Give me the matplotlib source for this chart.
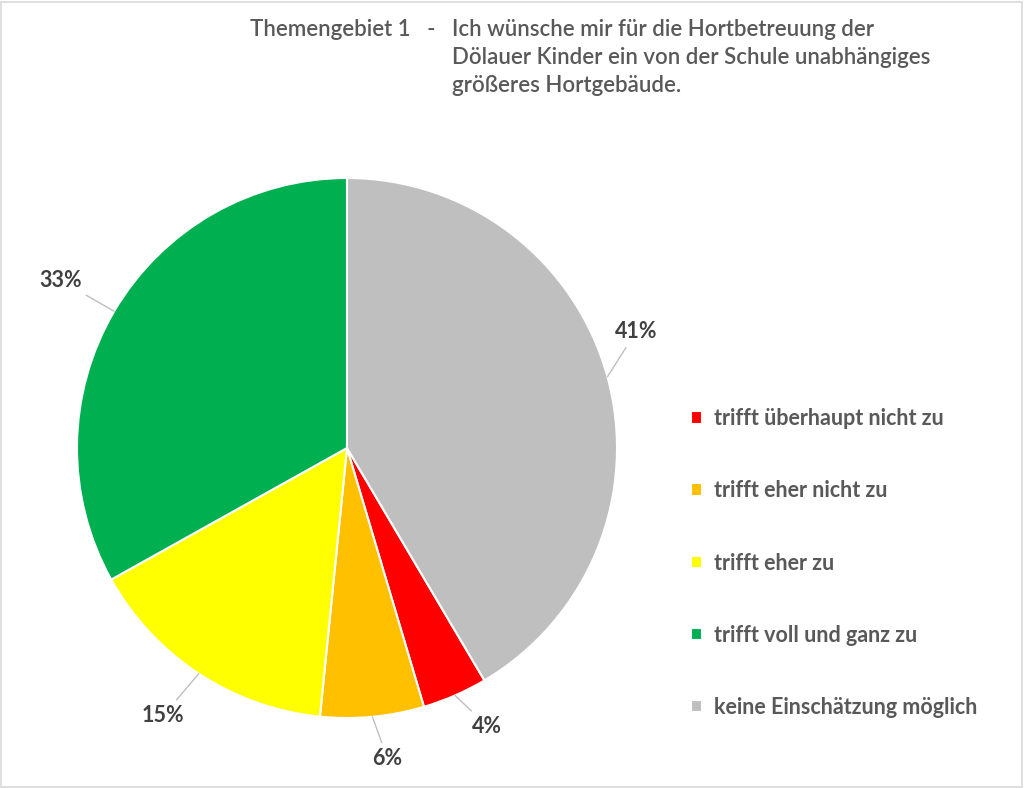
import numpy as np
import matplotlib.pyplot as plt
from matplotlib.patches import Rectangle

plt.rcParams['font.family'] = ['Lato', 'DejaVu Sans']

labels = [
    "trifft überhaupt nicht zu",
    "trifft eher nicht zu",
    "trifft eher zu",
    "trifft voll und ganz zu",
    "keine Einschätzung möglich",
]
values = [3.9, 6.2, 15.3, 33.1, 41.5]
pct_text = ["4%", "6%", "15%", "33%", "41%"]
colors = ["#ff0000", "#ffc000", "#ffff00", "#00b050", "#bfbfbf"]

# label positions (data units, pie radius = 1)
label_pos = [(0.52, -1.03), (0.15, -1.15), (-0.68, -0.99), (-1.06, 0.62), (1.07, 0.43)]

fig = plt.figure(figsize=(10.24, 7.88), dpi=100)
fig.patches.append(Rectangle((0.001, 0.001), 0.997, 0.997, transform=fig.transFigure,
                             fill=False, edgecolor="#d9d9d9", linewidth=1.2))

ax = fig.add_axes([77 / 1024, 70 / 788, 540 / 1024, 540 / 788])
total = sum(values)
start = 90 - 360 * values[-1] / total  # grey slice ends at 12 o'clock
wedges, _ = ax.pie(values, colors=colors, startangle=start, counterclock=False,
                   wedgeprops=dict(edgecolor="white", linewidth=1.5))
ax.set_xlim(-1, 1)
ax.set_ylim(-1, 1)
ax.set_aspect("equal")
ax.axis("off")

for w, txt, (tx, ty) in zip(wedges, pct_text, label_pos):
    ang = np.deg2rad((w.theta1 + w.theta2) / 2)
    x, y = np.cos(ang), np.sin(ang)
    ax.annotate(txt, xy=(x, y), xytext=(tx, ty), ha="center", va="center",
                fontsize=15.5, fontweight="bold", color="#404040",
                arrowprops=dict(arrowstyle="-", color="#bfbfbf", lw=1,
                                shrinkA=2, shrinkB=0), annotation_clip=False)

title_kw = dict(fontsize=16, fontweight="semibold", color="#595959", va="top", ha="left")
fig.text(250 / 1024, 1 - 19 / 788, "Themengebiet 1   -", **title_kw)
fig.text(452 / 1024, 1 - 19 / 788,
         "Ich wünsche mir für die Hortbetreuung der\n"
         "Dölauer Kinder ein von der Schule unabhängiges\n"
         "größeres Hortgebäude.",
         linespacing=1.42, **title_kw)

leg = fig.legend(wedges, labels, loc="center left", bbox_to_anchor=(672 / 1024, 1 - 563 / 788),
                 frameon=False, handlelength=0.5, handleheight=0.5, handletextpad=0.55,
                 labelspacing=2.38, prop=dict(size=15.5, weight="bold"))
for t in leg.get_texts():
    t.set_color("#595959")

fig.savefig("out.png", dpi=100)
